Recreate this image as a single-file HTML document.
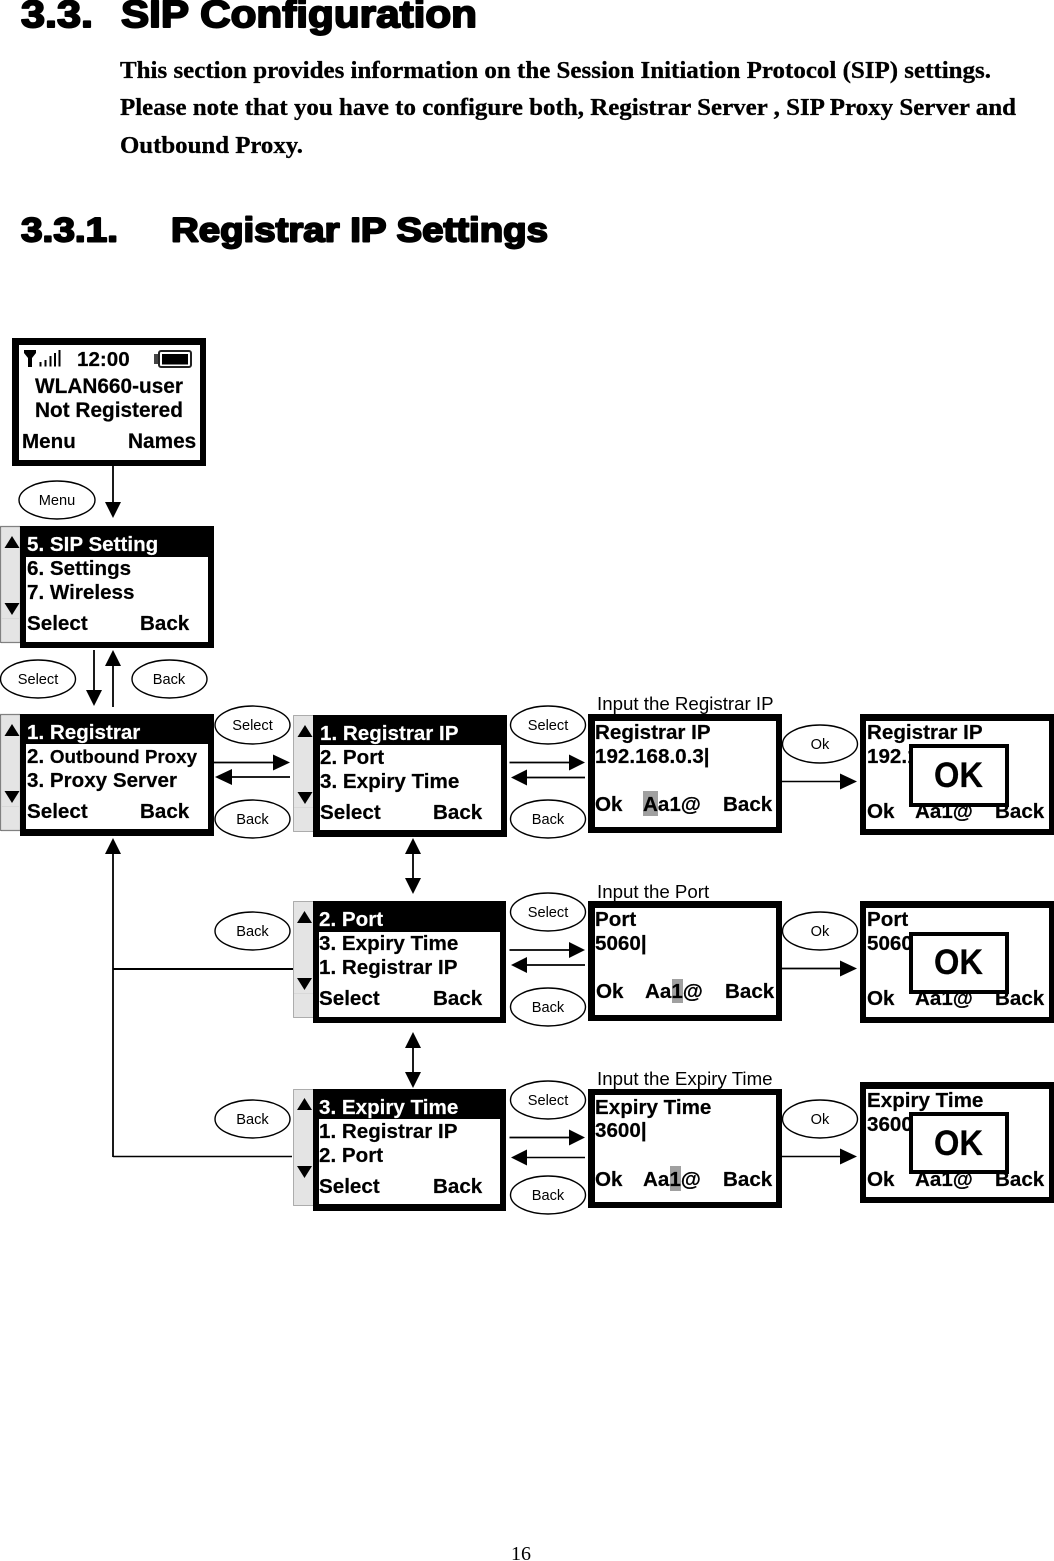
<!DOCTYPE html>
<html><head><meta charset="utf-8"><style>
html,body{margin:0;padding:0;background:#fff;width:1054px;height:1561px;overflow:hidden}
svg{display:block}
text{font-family:"Liberation Sans",sans-serif;fill:#000;white-space:pre}
.b{font-weight:bold;font-size:20.6px;stroke:#000;stroke-width:.2px}
.w{fill:#fff;stroke:#fff}
.o{font-size:14.6px;text-anchor:middle}
.l{font-size:18.7px}
.k{font-weight:bold;font-size:35px;stroke:#000;stroke-width:.2px}
.h{font-weight:bold;font-size:34px;stroke:#000;stroke-width:1.9px;stroke-linejoin:round}
.h1{font-size:38px}
.s{font-family:"Liberation Serif",serif;font-weight:bold;font-size:24px;stroke:#000;stroke-width:.3px}
.e{fill:#fff;stroke:#000;stroke-width:1.4}
.sb{fill:#e4e4e4;stroke:#111;stroke-width:1.2;stroke-dasharray:1 1}
.sc{fill:#e4e4e4;stroke:#666;stroke-width:1;stroke-dasharray:1 1}
.ln{stroke:#000;stroke-width:1.8;fill:none}
.f{stroke:#d8d8d8;stroke-width:1;fill:none}
</style></head><body>
<svg width="1054" height="1561" viewBox="0 0 1054 1561" xmlns="http://www.w3.org/2000/svg">
<rect width="1054" height="1561" fill="#fff"/>
<!-- headings -->
<text class="h h1" x="21" y="27" textLength="72" lengthAdjust="spacingAndGlyphs">3.3.</text>
<text class="h h1" x="121" y="27" textLength="356" lengthAdjust="spacingAndGlyphs">SIP Configuration</text>
<text class="s" x="120" y="78" textLength="871" lengthAdjust="spacingAndGlyphs">This section provides information on the Session Initiation Protocol (SIP) settings.</text>
<text class="s" x="120" y="115" textLength="896" lengthAdjust="spacingAndGlyphs">Please note that you have to configure both, Registrar Server , SIP Proxy Server and</text>
<text class="s" x="120" y="153" textLength="183" lengthAdjust="spacingAndGlyphs">Outbound Proxy.</text>
<text class="h" x="21" y="241.5" textLength="97" lengthAdjust="spacingAndGlyphs">3.3.1.</text>
<text class="h" x="171" y="241.5" textLength="377" lengthAdjust="spacingAndGlyphs">Registrar IP Settings</text>
<text x="511" y="1560" style="font-family:'Liberation Serif',serif;font-size:20px">16</text>

<!-- home screen -->
<rect x="12" y="338" width="194" height="128" fill="#000"/>
<rect x="19" y="345" width="181" height="115" fill="#fff"/>
<polygon points="24,350 36,350 36,353 32,358 32,367 28,367 28,358 24,353"/>
<rect x="39.5" y="362" width="2" height="4.5"/><rect x="44.5" y="360" width="2" height="6.5"/><rect x="49.5" y="356" width="2" height="10.5"/><rect x="54" y="353" width="2" height="13.5"/><rect x="58.5" y="350" width="2" height="16.5"/>
<rect x="154" y="354" width="5" height="10" fill="#444"/>
<rect x="159" y="351" width="32" height="16" rx="2" fill="#fff" stroke="#222" stroke-width="2"/>
<rect x="162" y="354" width="26" height="10.5"/>
<text class="b" x="77" y="366">12:00</text>
<text class="b" x="35" y="393" style="font-size:20.8px">WLAN660-user</text>
<text class="b" x="35" y="417" style="font-size:20.8px">Not Registered</text>
<text class="b" x="22" y="448">Menu</text>
<text class="b" x="128" y="448" style="font-size:20.8px">Names</text>

<!-- SIP setting menu -->
<rect class="sb" x="0.5" y="526.5" width="20" height="116"/>
<path class="f" d="M1 618.5H20"/>
<polygon points="12,536 19.5,548 4.5,548"/><polygon points="12,615 19.5,603 4.5,603"/>
<rect x="20" y="526" width="194" height="122" fill="#000"/>
<rect x="26" y="557" width="182" height="85" fill="#fff"/>
<text class="b w" x="27" y="551">5. SIP Setting</text>
<text class="b" x="27" y="575">6. Settings</text>
<text class="b" x="27" y="599">7. Wireless</text>
<text class="b" x="27" y="630">Select</text><text class="b" x="140" y="630">Back</text>

<!-- Registrar menu -->
<rect class="sb" x="0.5" y="714.5" width="20" height="116"/>
<path class="f" d="M1 806.5H20"/>
<polygon points="12,724 19.5,736 4.5,736"/><polygon points="12,803 19.5,791 4.5,791"/>
<rect x="20" y="714" width="194" height="122" fill="#000"/>
<rect x="26" y="744" width="182" height="85" fill="#fff"/>
<text class="b w" x="27" y="739">1. Registrar</text>
<text class="b" x="27" y="763">2. <tspan style="font-size:18.8px">Outbound Proxy</tspan></text>
<text class="b" x="27" y="787">3. Proxy Server</text>
<text class="b" x="27" y="818">Select</text><text class="b" x="140" y="818">Back</text>

<!-- Registrar IP menu -->
<rect class="sc" x="293.5" y="715.5" width="20" height="116"/>
<path class="f" d="M294 807.5H313"/>
<polygon points="305,725 312.5,737 297.5,737"/><polygon points="305,804 312.5,792 297.5,792"/>
<rect x="313" y="715" width="194" height="122" fill="#000"/>
<rect x="320" y="745" width="181" height="85" fill="#fff"/>
<text class="b w" x="320" y="740">1. Registrar IP</text>
<text class="b" x="320" y="764">2. Port</text>
<text class="b" x="320" y="788">3. Expiry Time</text>
<text class="b" x="320" y="819">Select</text><text class="b" x="433" y="819">Back</text>

<!-- Port menu -->
<rect class="sc" x="293.5" y="901.5" width="20" height="116"/>
<path class="f" d="M294 993.5H313"/>
<polygon points="304.5,911 312,923 297,923"/><polygon points="304.5,990 312,978 297,978"/>
<rect x="313" y="901" width="193" height="122" fill="#000"/>
<rect x="319" y="932" width="181" height="85" fill="#fff"/>
<text class="b w" x="319" y="926">2. Port</text>
<text class="b" x="319" y="950">3. Expiry Time</text>
<text class="b" x="319" y="974">1. Registrar IP</text>
<text class="b" x="319" y="1005">Select</text><text class="b" x="433" y="1005">Back</text>

<!-- Expiry menu -->
<rect class="sc" x="293.5" y="1089.5" width="20" height="116"/>
<polygon points="304.5,1098 312,1110 297,1110"/><polygon points="304.5,1178 312,1166 297,1166"/>
<rect x="313" y="1089" width="193" height="122" fill="#000"/>
<rect x="319" y="1119" width="181" height="85" fill="#fff"/>
<text class="b w" x="319" y="1114">3. Expiry Time</text>
<text class="b" x="319" y="1138">1. Registrar IP</text>
<text class="b" x="319" y="1162">2. Port</text>
<text class="b" x="319" y="1193">Select</text><text class="b" x="433" y="1193">Back</text>

<!-- Input screens -->
<text class="l" x="597" y="710">Input the Registrar IP</text>
<rect x="588" y="714" width="194" height="119" fill="#000"/>
<rect x="595" y="721" width="181" height="106" fill="#fff"/>
<rect x="643" y="791" width="15" height="25" fill="#a0a0a0"/>
<text class="b" x="595" y="739">Registrar IP</text>
<text class="b" x="595" y="763">192.168.0.3|</text>
<text class="b" x="595" y="811">Ok</text><text class="b" x="643" y="811">Aa1@</text><text class="b" x="723" y="811">Back</text>

<text class="l" x="597" y="898">Input the Port</text>
<rect x="588" y="901" width="194" height="120" fill="#000"/>
<rect x="595" y="908" width="181" height="107" fill="#fff"/>
<rect x="672" y="979" width="11" height="24" fill="#a0a0a0"/>
<text class="b" x="595" y="926">Port</text>
<text class="b" x="595" y="950">5060|</text>
<text class="b" x="596" y="998">Ok</text><text class="b" x="645" y="998">Aa1@</text><text class="b" x="725" y="998">Back</text>

<text class="l" x="597" y="1085">Input the Expiry Time</text>
<rect x="588" y="1089" width="194" height="119" fill="#000"/>
<rect x="595" y="1095" width="181" height="107" fill="#fff"/>
<rect x="670" y="1166" width="11" height="25" fill="#a0a0a0"/>
<text class="b" x="595" y="1114">Expiry Time</text>
<text class="b" x="595" y="1137">3600|</text>
<text class="b" x="595" y="1186">Ok</text><text class="b" x="643" y="1186">Aa1@</text><text class="b" x="723" y="1186">Back</text>

<!-- OK screens -->
<rect x="860" y="714" width="194" height="121" fill="#000"/>
<rect x="866" y="721" width="183" height="108" fill="#fff"/>
<text class="b" x="867" y="739">Registrar IP</text>
<text class="b" x="867" y="763">192.168.0.3</text>
<text class="b" x="867" y="818">Ok</text><text class="b" x="915" y="818">Aa1@</text><text class="b" x="995" y="818">Back</text>
<rect x="911" y="746" width="96" height="59" fill="#fff" stroke="#000" stroke-width="4"/>
<text class="k" x="934" y="787" textLength="49" lengthAdjust="spacingAndGlyphs">OK</text>

<rect x="860" y="901" width="194" height="122" fill="#000"/>
<rect x="866" y="908" width="183" height="109" fill="#fff"/>
<text class="b" x="867" y="926">Port</text>
<text class="b" x="867" y="950">5060|</text>
<text class="b" x="867" y="1005">Ok</text><text class="b" x="915" y="1005">Aa1@</text><text class="b" x="995" y="1005">Back</text>
<rect x="911" y="934" width="96" height="58" fill="#fff" stroke="#000" stroke-width="4"/>
<text class="k" x="934" y="974" textLength="49" lengthAdjust="spacingAndGlyphs">OK</text>

<rect x="860" y="1082" width="194" height="121" fill="#000"/>
<rect x="866" y="1089" width="183" height="108" fill="#fff"/>
<text class="b" x="867" y="1107">Expiry Time</text>
<text class="b" x="867" y="1131">3600|</text>
<text class="b" x="867" y="1186">Ok</text><text class="b" x="915" y="1186">Aa1@</text><text class="b" x="995" y="1186">Back</text>
<rect x="911" y="1114" width="96" height="58" fill="#fff" stroke="#000" stroke-width="4"/>
<text class="k" x="934" y="1155" textLength="49" lengthAdjust="spacingAndGlyphs">OK</text>

<!-- Ellipses -->
<ellipse class="e" cx="57" cy="500" rx="38" ry="19"/><text class="o" x="57" y="505">Menu</text>
<ellipse class="e" cx="38" cy="679" rx="37.5" ry="19"/><text class="o" x="38" y="684">Select</text>
<ellipse class="e" cx="169.5" cy="679" rx="37.5" ry="19"/><text class="o" x="169" y="684">Back</text>
<ellipse class="e" cx="252.5" cy="725" rx="37.5" ry="19"/><text class="o" x="252.5" y="730">Select</text>
<ellipse class="e" cx="252.5" cy="819" rx="37.5" ry="19"/><text class="o" x="252.5" y="824">Back</text>
<ellipse class="e" cx="548" cy="725" rx="37.5" ry="19"/><text class="o" x="548" y="730">Select</text>
<ellipse class="e" cx="548" cy="819" rx="37.5" ry="19"/><text class="o" x="548" y="824">Back</text>
<ellipse class="e" cx="820" cy="744" rx="37.5" ry="19"/><text class="o" x="820" y="749">Ok</text>
<ellipse class="e" cx="252.5" cy="931" rx="37.5" ry="19"/><text class="o" x="252.5" y="936">Back</text>
<ellipse class="e" cx="548" cy="912" rx="37.5" ry="19"/><text class="o" x="548" y="917">Select</text>
<ellipse class="e" cx="548" cy="1007" rx="37.5" ry="19"/><text class="o" x="548" y="1012">Back</text>
<ellipse class="e" cx="820" cy="931" rx="37.5" ry="19"/><text class="o" x="820" y="936">Ok</text>
<ellipse class="e" cx="252.5" cy="1119" rx="37.5" ry="19"/><text class="o" x="252.5" y="1124">Back</text>
<ellipse class="e" cx="548" cy="1100" rx="37.5" ry="19"/><text class="o" x="548" y="1105">Select</text>
<ellipse class="e" cx="548" cy="1195" rx="37.5" ry="19"/><text class="o" x="548" y="1200">Back</text>
<ellipse class="e" cx="820" cy="1119" rx="37.5" ry="19"/><text class="o" x="820" y="1124">Ok</text>

<!-- Vertical arrows -->
<path class="ln" d="M113 466V504"/><polygon points="105,502 121,502 113,518"/>
<path class="ln" d="M94 650V692"/><polygon points="86,690 102,690 94,706"/>
<path class="ln" d="M113 664V707"/><polygon points="105,666 121,666 113,650"/>
<path class="ln" d="M113 852V1157"/><polygon points="105,854 121,854 113,838"/>
<path class="ln" d="M413 852V880"/><polygon points="405,854 421,854 413,838"/><polygon points="405,878 421,878 413,894"/>
<path class="ln" d="M413 1046V1074"/><polygon points="405,1048 421,1048 413,1032"/><polygon points="405,1072 421,1072 413,1088"/>
<!-- Return lines -->
<path d="M113 969H293" stroke="#000" stroke-width="2" fill="none"/>
<path d="M113 1156.5H292" stroke="#000" stroke-width="1.4" fill="none"/>

<!-- Horizontal arrows: row 1 -->
<path class="ln" d="M214 762.5H275"/><polygon points="273,754.5 273,770.5 290,762.5"/>
<path class="ln" d="M290 777H230"/><polygon points="232,769 232,785 215,777"/>
<path class="ln" d="M509.5 762.5H571"/><polygon points="569,754.5 569,770.5 585,762.5"/>
<path class="ln" d="M585 777.5H525"/><polygon points="527,769.5 527,785.5 511,777.5"/>
<path class="ln" d="M782 781.5H842" style="stroke-width:1.4"/><polygon points="840,773.5 840,789.5 857,781.5"/>
<!-- row 2 -->
<path class="ln" d="M509.5 950H571"/><polygon points="569,942 569,958 585,950"/>
<path class="ln" d="M585 965H525"/><polygon points="527,957 527,973 511,965"/>
<path class="ln" d="M782 968.5H842"/><polygon points="840,960.5 840,976.5 857,968.5"/>
<!-- row 3 -->
<path class="ln" d="M509.5 1137.5H571"/><polygon points="569,1129.5 569,1145.5 585,1137.5"/>
<path class="ln" d="M585 1157.5H525" style="stroke-width:1.4"/><polygon points="527,1149.5 527,1165.5 511,1157.5"/>
<path class="ln" d="M782 1156.5H842" style="stroke-width:1.4"/><polygon points="840,1148.5 840,1164.5 857,1156.5"/>
</svg>
</body></html>
